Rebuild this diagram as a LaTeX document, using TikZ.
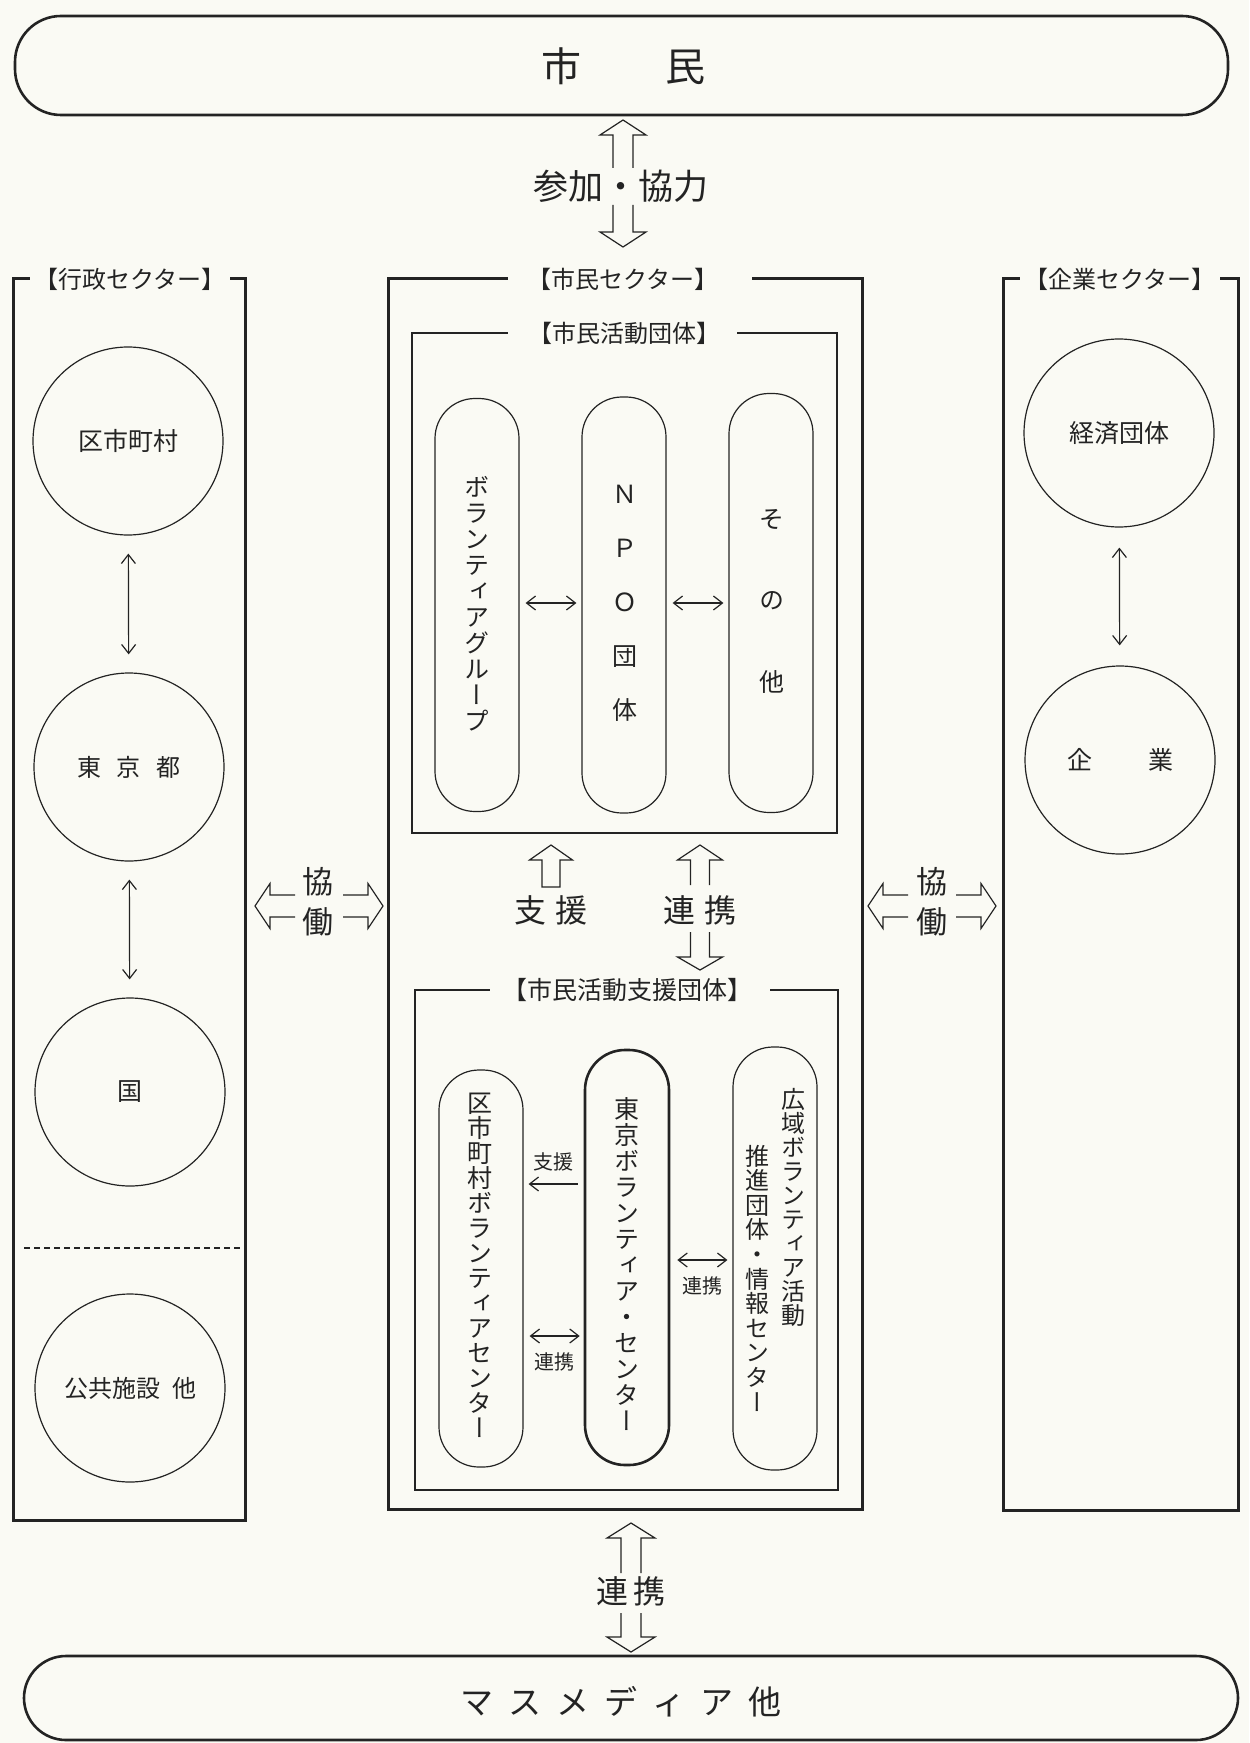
\documentclass[tikz,border=0pt]{standalone}
\usepackage{fontspec}
\setmainfont{Noto Sans CJK JP}
\newfontfamily\jpv[RawFeature=+vert]{Noto Sans CJK JP}
\usetikzlibrary{arrows.meta,shapes.geometric,calc}
\definecolor{paper}{RGB}{250,250,244}
\definecolor{ink}{RGB}{35,35,35}
\newcommand\hvarrow[6]{% x, tip y, base y, end y, shaft half, head half
  \draw[hollow] ({#1-#5},#4) -- ({#1-#5},#3) -- ({#1-#6},#3) -- (#1,#2) -- ({#1+#6},#3) -- ({#1+#5},#3) -- ({#1+#5},#4);}
\newcommand\hharrow[6]{% y, tip x, base x, end x, shaft half, head half
  \draw[hollow] (#4,{#1-#5}) -- (#3,{#1-#5}) -- (#3,{#1-#6}) -- (#2,#1) -- (#3,{#1+#6}) -- (#3,{#1+#5}) -- (#4,{#1+#5});}
\begin{document}
\begin{tikzpicture}[x=0.5pt,y=-0.5pt,
  every path/.style={draw=ink},
  sector/.style={draw=ink,line width=1.5pt},
  innerbox/.style={draw=ink,line width=1pt},
  capsule/.style={draw=ink,line width=1.3pt,rounded corners=23pt},
  circ/.style={draw=ink,ellipse,line width=0.6pt,minimum width=95pt,minimum height=94pt,inner sep=0pt},
  pill/.style={draw=ink,rounded corners=20pt,line width=0.6pt,minimum width=42pt,inner sep=0pt},
  title/.style={fill=paper,draw=none,inner xsep=2pt,inner ysep=1pt,text=ink,font=\fontsize{12}{14}\selectfont},
  gap/.style={fill=paper,draw=none},
  lbl/.style={text=ink,inner sep=0pt,font=\fontsize{12.5}{14}\selectfont},
  big/.style={text=ink,inner sep=0pt,font=\fontsize{16}{18}\selectfont},
  small/.style={text=ink,inner sep=0pt,font=\fontsize{10}{12}\selectfont},
  vtext/.style={text=ink,inner sep=0pt,align=center},
  hollow/.style={draw=ink,line width=0.6pt,line join=miter},
  tw/.style={draw=ink,line width=0.6pt,{Straight Barb[length=4.5pt,width=7pt]}-{Straight Barb[length=4.5pt,width=7pt]}},
  tl/.style={draw=ink,line width=0.6pt,{Straight Barb[length=4.5pt,width=7pt]}-}
]
\useasboundingbox[fill=paper,draw=none] (0,0) rectangle (1249,1743);

% top and bottom capsules
\draw[capsule] (15,16) rectangle (1228,115);
\node[lbl,font=\fontsize{20}{22}\selectfont] (shimin) at (623,66) {市\hspace{42pt}民};
\draw[capsule,rounded corners=21pt] (24,1656) rectangle (1238,1740);
\node[big,font=\fontsize{16.5}{18}\selectfont] (media) at (621,1702) {マ\hspace{7.5pt}ス\hspace{7.5pt}メ\hspace{7.5pt}デ\hspace{7.5pt}ィ\hspace{7.5pt}ア\hspace{7.5pt}他};

% participation arrow
\hvarrow{623}{120}{135}{168}{10}{23}
\hvarrow{623}{247}{232}{205}{10}{23}
\node[big,font=\fontsize{17.5}{19}\selectfont] (sanka) at (621,186) {参加・協力};

% bottom arrow
\hvarrow{631}{1523}{1538}{1573}{10}{24}
\hvarrow{631}{1652}{1637}{1613}{10}{24}
\node[big] (renkeiB) at (631,1591) {連\hspace{3pt}携};

% sector boxes
\draw[sector] (13,279) rectangle (245,1520);
\node[title] (tgov) at (130,279) {【行政セクター】};
\draw[sector] (388,279) rectangle (862,1509);
\fill[gap] (508,270) rectangle (752,290);
\node[title,fill=none] (tciv) at (623,279) {【市民セクター】};
\draw[sector] (1003,279) rectangle (1238,1510);
\node[title] (tbiz) at (1120,279) {【企業セクター】};

% inner boxes
\draw[innerbox] (412,333) rectangle (837,833);
\fill[gap] (508,325) rectangle (737,341);
\node[title,fill=none] (tact) at (624,333) {【市民活動団体】};
\draw[innerbox] (415,990) rectangle (838,1490);
\fill[gap] (490,982) rectangle (770,998);
\node[title,fill=none,font=\fontsize{12.5}{14}\selectfont] (tsup) at (627,990) {【市民活動支援団体】};

% government circles
\node[circ] (g1) at (128,441) {};
\node[lbl] at (g1) {区市町村};
\node[circ] (g2) at (129,767) {};
\node[lbl,font=\fontsize{12}{14}\selectfont] at (g2) {東\hspace{8pt}京\hspace{8pt}都};
\node[circ] (g3) at (130,1092) {};
\node[lbl] at (g3) {国};
\node[circ] (g4) at (130,1388) {};
\node[lbl,font=\fontsize{12}{14}\selectfont] at (g4) {公共施設\hspace{6pt}他};
\draw[tw,shorten <=9pt,shorten >=9pt] (g1) -- (g2);
\draw[tw,shorten <=9pt,shorten >=9pt] (g2) -- (g3);
\draw[ink,line width=0.6pt,dash pattern=on 3pt off 2pt] (24,1248) -- (245,1248);

% business circles
\node[circ] (b1) at (1119,433) {};
\node[lbl] at (b1) {経済団体};
\node[circ] (b2) at (1120,760) {};
\node[lbl] at (b2) {企\hspace{28pt}業};
\draw[tw,shorten <=10pt,shorten >=10pt] (b1) -- (b2);

% civic activity pills
\node[pill,minimum height=206.5pt] (p1) at (477,605) {};
\node[pill,minimum height=208pt] (p2) at (624,605) {};
\node[pill,minimum height=209.5pt] (p3) at (771,603) {};
\node[vtext,font=\jpv\fontsize{12.5}{13}\selectfont] at (477,604) {ボ\\ラ\\ン\\テ\\ィ\\ア\\グ\\ル\\ー\\プ};
\node[vtext,font=\jpv\fontsize{12.5}{27}\selectfont] at (625,603) {Ｎ\\Ｐ\\Ｏ\\団\\体};
\node[vtext,font=\jpv\fontsize{12.5}{40.75}\selectfont] at (772,601) {そ\\の\\他};
\draw[tw,shorten <=3pt,shorten >=2.5pt] (p1.east |- 0,603) -- (p2.west |- 0,603);
\draw[tw,shorten <=3pt,shorten >=2.5pt] (p2.east |- 0,603) -- (p3.west |- 0,603);

% support / cooperation arrows (middle)
\draw[hollow] (542,887) -- (542,860) -- (529.5,860) -- (551,845) -- (572.5,860) -- (560,860) -- (560,887) -- cycle;
\node[big] (shien) at (551,910) {支\hspace{5pt}援};
\hvarrow{700}{845}{860}{885}{9.5}{22.5}
\hvarrow{700}{970}{957}{932}{9.5}{22.5}
\node[big] (renkeiM) at (700,910) {連\hspace{5pt}携};

% support organisation pills
\node[pill,minimum height=198.5pt] (k1) at (481,1268.5) {};
\node[pill,minimum height=207.5pt,line width=1.3pt] (k2) at (627,1257.5) {};
\node[pill,minimum height=211.5pt] (k3) at (775,1258.5) {};
\node[vtext,font=\jpv\fontsize{12.5}{12.5}\selectfont] at (480,1265) {区\\市\\町\\村\\ボ\\ラ\\ン\\テ\\ィ\\ア\\セ\\ン\\タ\\ー};
\node[vtext,font=\jpv\fontsize{12.5}{13}\selectfont] at (627,1264) {東\\京\\ボ\\ラ\\ン\\テ\\ィ\\ア\\・\\セ\\ン\\タ\\ー};
\node[vtext,font=\jpv\fontsize{12}{12}\selectfont] at (793,1207) {広\\域\\ボ\\ラ\\ン\\テ\\ィ\\ア\\活\\動};
\node[vtext,font=\jpv\fontsize{12}{12.3}\selectfont] at (757,1278) {推\\進\\団\\体\\・\\情\\報\\セ\\ン\\タ\\ー};
\draw[tl,shorten <=2.5pt,shorten >=3pt] (k1.east |- 0,1184) -- (k2.west |- 0,1184);
\node[small] at (553,1162) {支援};
\draw[tw,shorten <=3pt,shorten >=2pt] (k1.east |- 0,1336) -- (k2.west |- 0,1336);
\node[small] at (554,1362) {連携};
\draw[tw,shorten <=3.5pt,shorten >=2.5pt] (k2.east |- 0,1260) -- (k3.west |- 0,1260);
\node[small] at (702,1286) {連携};

% collaboration arrows
\hharrow{906}{255}{270}{295}{11}{22.5}
\hharrow{906}{383}{368}{343}{11}{22.5}
\node[big,font=\fontsize{15.5}{17}\selectfont] (kyo1) at (318,882) {協};
\node[big,font=\fontsize{15.5}{17}\selectfont] (do1) at (318,922) {働};
\hharrow{906}{868}{883}{908}{11}{22.5}
\hharrow{906}{996}{981}{956}{11}{22.5}
\node[big,font=\fontsize{15.5}{17}\selectfont] (kyo2) at (932,882) {協};
\node[big,font=\fontsize{15.5}{17}\selectfont] (do2) at (932,922) {働};
\end{tikzpicture}
\end{document}
